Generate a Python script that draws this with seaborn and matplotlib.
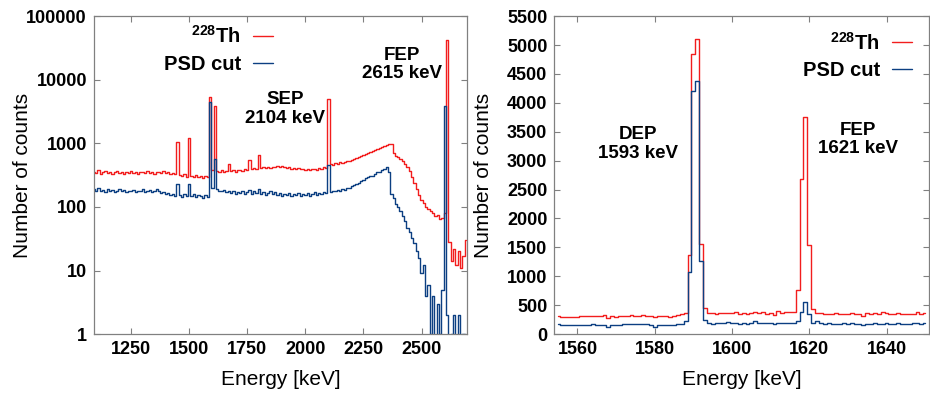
import numpy as np
import pandas as pd
import matplotlib.pyplot as plt
import matplotlib.ticker as mticker
import seaborn as sns

sns.set_style("white")
plt.rcParams["font.family"] = ["Liberation Sans", "DejaVu Sans"]
plt.rcParams["mathtext.fontset"] = "custom"
plt.rcParams["mathtext.rm"] = "Liberation Sans:bold"
plt.rcParams["mathtext.it"] = "Liberation Sans:italic:bold"
plt.rcParams["text.color"] = "black"
plt.rcParams["axes.labelcolor"] = "black"

# full spectrum, 10 keV bins starting at 1090 keV
wide_start = 1090
wide_th = [360, 340, 380, 330, 350, 370, 340, 360, 330, 350,
           365, 340, 355, 335, 360, 345, 370, 340, 355, 335,
           350, 360, 340, 365, 345, 355, 335, 360, 350, 340,
           365, 345, 350, 335, 345, 330, 1050, 320, 310, 325,
           300, 1200, 310, 295, 315, 300, 310, 290, 305, 300,
           5300, 380, 3900, 370, 360, 375, 355, 370, 480, 365,
           380, 360, 375, 385, 370, 390, 380, 540, 395, 410,
           400, 650, 410, 420, 405, 425, 415, 430, 420, 440,
           425, 435, 420, 410, 425, 400, 415, 395, 410, 390,
           400, 385, 395, 380, 390, 400, 385, 410, 395, 420,
           410, 5000, 480, 460, 490, 470, 500, 485, 510, 530,
           520, 550, 570, 590, 610, 640, 660, 690, 710, 740,
           760, 790, 820, 850, 880, 910, 940, 960, 990, 700,
           640, 610, 570, 530, 480, 430, 370, 300, 240, 190,
           155, 130, 115, 100, 92, 85, 80, 72, 76, 64,
           68, 80, 42000, 28, 14, 22, 12, 20, 11, 17, 30]
wide_psd = [190, 180, 195, 175, 185, 170, 190, 175, 185, 170,
            180, 190, 175, 185, 170, 180, 175, 185, 170, 180,
            175, 190, 170, 180, 185, 170, 180, 190, 175, 165,
            170, 160, 165, 155, 160, 150, 230, 155, 145, 160,
            150, 230, 150, 160, 145, 155, 150, 140, 155, 145,
            4500, 200, 560, 190, 180, 175, 185, 170, 180, 165,
            175, 160, 170, 165, 175, 160, 170, 185, 160, 175,
            165, 190, 160, 170, 155, 165, 175, 160, 170, 155,
            165, 150, 160, 155, 165, 150, 160, 155, 165, 150,
            160, 155, 165, 150, 160, 170, 155, 165, 160, 170,
            165, 450, 170, 180, 175, 185, 180, 190, 185, 195,
            200, 210, 220, 230, 240, 255, 265, 280, 300, 310,
            305, 330, 350, 360, 385, 400, 420, 350, 160, 140,
            110, 100, 85, 72, 60, 47, 40, 32, 27, 20,
            16, 9, 12, 4, 6, 1, 4, 0, 3, 1,
            5, 3900, 2, 0, 1, 2, 0, 2, 0, 1, 0]

# region around DEP and the 1621 keV line, 1 keV bins from 1555 keV
zoom_start = 1555
zoom_th = [320, 300, 295, 295, 300, 300, 310, 305, 310, 315,
           310, 310, 325, 280, 310, 300, 305, 310, 320, 335,
           310, 320, 335, 310, 320, 300, 320, 310, 305, 290,
           310, 330, 340, 370, 1360, 4850, 5100, 1560, 450, 360,
           360, 350, 365, 360, 370, 360, 375, 350, 360, 340,
           360, 375, 360, 380, 355, 360, 335, 400, 370, 380,
           375, 390, 760, 2680, 3760, 1550, 430, 370, 360, 350,
           355, 350, 360, 345, 355, 350, 365, 355, 350, 305,
           360, 350, 370, 355, 380, 360, 355, 350, 360, 355,
           340, 350, 355, 380, 350, 360]
zoom_psd = [170, 160, 155, 155, 160, 160, 165, 160, 165, 170,
            165, 165, 150, 130, 160, 165, 165, 170, 175, 180,
            170, 175, 180, 170, 165, 130, 160, 165, 160, 150,
            160, 170, 175, 230, 1080, 4200, 4370, 1260, 250, 190,
            180, 195, 200, 195, 205, 200, 190, 180, 185, 175,
            190, 230, 195, 185, 190, 185, 170, 200, 185, 190,
            195, 200, 230, 380, 550, 340, 200, 230, 190, 180,
            185, 180, 175, 180, 185, 180, 185, 180, 175, 150,
            175, 180, 185, 175, 180, 190, 175, 180, 185, 180,
            170, 180, 185, 190, 180, 185]

labels = ["$^{228}$Th", "PSD cut"]
colors = ["#f21d1d", "#0c3f82"]


def long_table(start, step, th, psd):
    e = start + step * np.arange(len(th))
    return pd.DataFrame({
        "Energy": np.concatenate([e, e]),
        "Counts": np.array(th + psd, dtype=float),
        "series": [labels[0]] * len(th) + [labels[1]] * len(psd),
    })


def draw(ax, df, legend_anchor):
    sns.lineplot(data=df, x="Energy", y="Counts", hue="series", hue_order=labels,
                 palette=colors, estimator=None, sort=False, drawstyle="steps-mid",
                 linewidth=1.0, ax=ax)
    leg = ax.get_legend()
    handles = leg.legend_handles
    texts = [t.get_text() for t in leg.get_texts()]
    ax.legend(handles, texts, loc="upper right", bbox_to_anchor=legend_anchor,
              markerfirst=False, frameon=False,
              prop={"size": 14.5, "weight": "bold"}, handlelength=1.0,
              handletextpad=0.6, labelspacing=0.38, borderpad=0, borderaxespad=0)
    ax.set_xlabel("Energy [keV]", fontsize=15)
    ax.set_ylabel("Number of counts", fontsize=15)
    ax.xaxis.set_label_coords(0.5, -0.113)
    ax.tick_params(direction="in", length=4, width=0.8, color="#808080",
                   labelcolor="black", labelsize=13, pad=5,
                   top=True, right=True, bottom=True, left=True)
    for s in ax.spines.values():
        s.set_color("#808080")
        s.set_linewidth(0.9)


def note(ax, x, y, s):
    ax.text(x, y, s, transform=ax.transAxes, ha="center", va="center",
            fontsize=13.5, fontweight="bold", linespacing=1.1)


fig = plt.figure(figsize=(9.3, 3.94), dpi=100)
ax1 = fig.add_axes([0.101, 0.152, 0.401, 0.807])
ax2 = fig.add_axes([0.596, 0.152, 0.403, 0.807])

draw(ax1, long_table(wide_start, 10, wide_th, wide_psd), (0.48, 0.972))
ax1.set_yscale("log")
ax1.set_ylim(1, 100000)
ax1.set_xlim(1090, 2695)
ax1.set_xticks([1250, 1500, 1750, 2000, 2250, 2500])
ax1.yaxis.set_major_locator(mticker.FixedLocator([1, 10, 100, 1000, 10000, 100000]))
ax1.yaxis.set_major_formatter(mticker.FuncFormatter(lambda v, _: f"{int(round(v))}"))
ax1.yaxis.set_minor_locator(mticker.NullLocator())
ax1.yaxis.set_label_coords(-0.166, 0.5)
for t in ax1.get_xticklabels() + ax1.get_yticklabels():
    t.set_fontweight("bold")
note(ax1, 0.512, 0.708, "SEP\n2104 keV")
note(ax1, 0.826, 0.848, "FEP\n2615 keV")

draw(ax2, long_table(zoom_start, 1, zoom_th, zoom_psd), (0.955, 0.952))
ax2.set_ylim(0, 5500)
ax2.set_xlim(1554, 1651)
ax2.set_xticks([1560, 1580, 1600, 1620, 1640])
ax2.set_yticks(np.arange(0, 5501, 500))
ax2.yaxis.set_label_coords(-0.163, 0.5)
for t in ax2.get_xticklabels() + ax2.get_yticklabels():
    t.set_fontweight("bold")
note(ax2, 0.224, 0.598, "DEP\n1593 keV")
note(ax2, 0.811, 0.613, "FEP\n1621 keV")

fig.savefig("out.png", dpi=100)
